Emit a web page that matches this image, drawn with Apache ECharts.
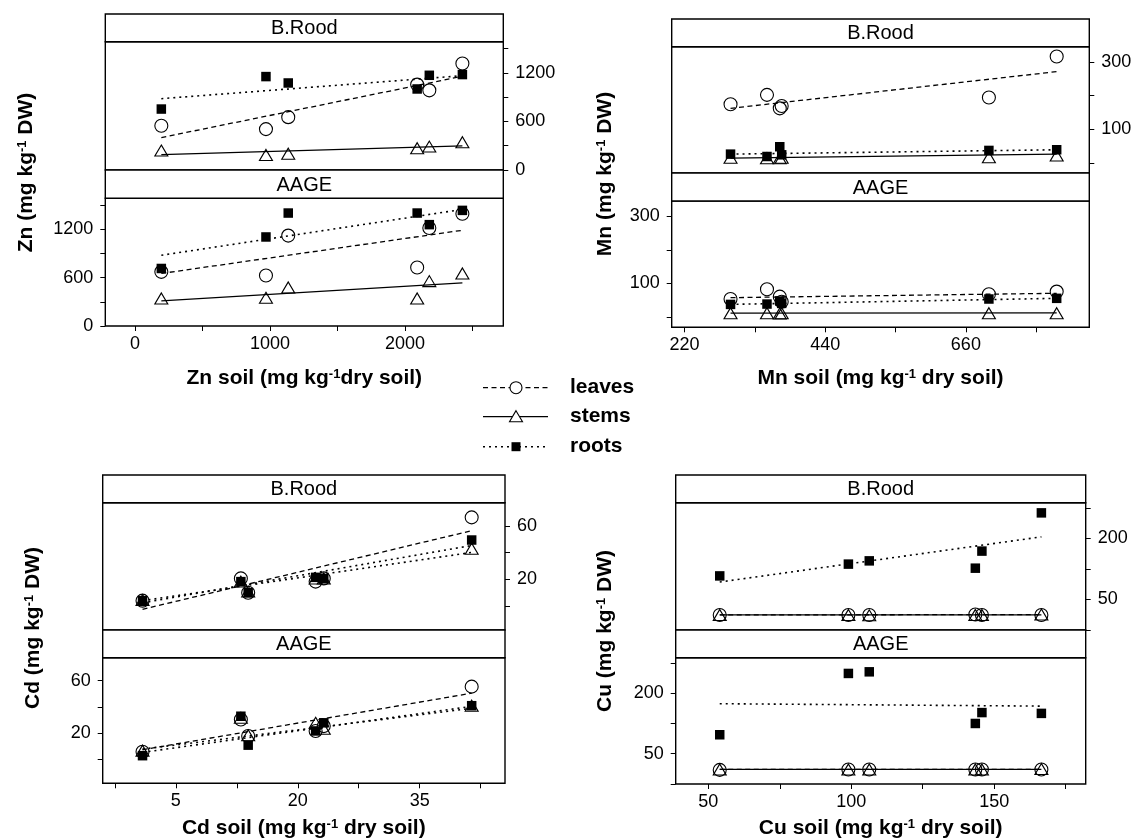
<!DOCTYPE html>
<html><head><meta charset="utf-8">
<script src="https://cdn.jsdelivr.net/npm/echarts@6/dist/echarts.min.js"></script>
<style>html,body{margin:0;padding:0;background:#fff}#c{width:1138px;height:839px}</style>
</head><body><div id="c"></div>
<script>
// ---------------- DATA ----------------
const seriesNames = ['leaves', 'stems', 'roots'];
const stripLabels = ['B.Rood', 'AAGE'];

// Zn
const znSoil = [195, 970, 1135, 2090, 2180, 2425];
const znRoodLeaves = [546, 505, 653, 1055, 984, 1315];
const znRoodStems = [240, 186, 202, 269, 289, 343];
const znRoodRoots = [753, 1154, 1075, 1001, 1170, 1179];
const znRoodFitLeaves = [401, 1158];
const znRoodFitStems = [190, 298];
const znRoodFitRoots = [881, 1165];
const znAageLeaves = [672, 627, 1122, 726, 1216, 1394];
const znAageStems = [342, 350, 479, 342, 557, 652];
const znAageRoots = [714, 1105, 1402, 1402, 1258, 1435];
const znAageFitLeaves = [652, 1188];
const znAageFitStems = [313, 536];
const znAageFitRoots = [878, 1447];
const znXTicks = [0, 500, 1000, 1500, 2000, 2500];
const znXLabels = [0, 1000, 2000];
const znYTicks = [0, 300, 600, 900, 1200, 1500];
const znYLabels = [0, 600, 1200];

// Mn
const mnSoil = [292, 349, 369, 372, 696, 802];
const mnRoodLeaves = [174, 202, 162, 169, 194, 316];
const mnRoodStems = [15, 14, 14, 15, 17, 22];
const mnRoodRoots = [26, 19, 48, 24, 37, 39];
const mnRoodFitLeaves = [162, 271];
const mnRoodFitStems = [14, 26];
const mnRoodFitRoots = [26, 39];
const mnAageLeaves = [54, 83, 61, 46, 68, 76];
const mnAageStems = [12, 12, 11, 12, 12, 12];
const mnAageRoots = [38, 39, 48, 41, 54, 56];
const mnAageFitLeaves = [58, 71];
const mnAageFitStems = [12, 13];
const mnAageFitRoots = [38, 56];
const mnXTicks = [220, 330, 440, 550, 660, 770];
const mnXLabels = [220, 440, 660];
const mnYTicks = [0, 100, 200, 300];
const mnYLabels = [100, 300];

// Cd
const cdSoil = [0.9, 13.0, 13.9, 22.2, 23.2, 41.4];
const cdRoodLeaves = [4, 20.7, 10, 18.3, 20.7, 66.5];
const cdRoodStems = [4.5, 18.3, 10.8, 20.7, 20.7, 43];
const cdRoodRoots = [4, 18.3, 10, 21.5, 20.7, 49.5];
const cdRoodFitLeaves = [-2.5, 56.5];
const cdRoodFitStems = [4.0, 40.2];
const cdRoodFitRoots = [2.4, 45.4];
const cdAageLeaves = [6, 30.5, 18, 21.8, 25.5, 55.5];
const cdAageStems = [6.8, 31.8, 18.5, 28, 23.5, 41];
const cdAageRoots = [3, 33, 11, 21.8, 28, 41];
const cdAageFitLeaves = [7.5, 50.5];
const cdAageFitStems = [8, 39];
const cdAageFitRoots = [5.5, 40.5];
const cdXTicks = [-2.5, 5, 12.5, 20, 27.5, 35, 42.5];
const cdXLabels = [5, 20, 35];
const cdYTicks = [0, 20, 40, 60];
const cdYLabels = [20, 60];

// Cu
const cuSoil = [54, 99, 106.3, 143.4, 145.7, 166.5];
const cuRoodLeaves = [12, 12, 12, 13, 12, 12];
const cuRoodStems = [12, 12, 11, 12, 12, 13];
const cuRoodRoots = [108, 137, 145, 127, 169, 263];
const cuRoodFitLeaves = [12, 13];
const cuRoodFitStems = [12, 12];
const cuRoodFitRoots = [93, 204];
const cuAageLeaves = [10, 11, 11, 11, 11, 11];
const cuAageStems = [11, 11, 11, 11, 11, 12];
const cuAageRoots = [97, 249, 253, 125, 152, 150];
const cuAageFitLeaves = [11, 11];
const cuAageFitStems = [11, 11];
const cuAageFitRoots = [174, 168];
const cuXTicks = [50, 75, 100, 125, 150, 175];
const cuXLabels = [50, 100, 150];
const cuYTicks = [-25, 50, 125, 200, 275];
const cuYLabels = [50, 200];

// ---------------- LAYOUT / STYLE ----------------
const FONT = 'Liberation Sans';
const panels = [
  { el: 'Zn', soil: znSoil, xMin: -220, xMax: 2728, yMin: 0, yMax: 1585,
    xTicks: znXTicks, xLabels: znXLabels, yTicks: znYTicks, yLabels: znYLabels,
    rood: [znRoodLeaves, znRoodStems, znRoodRoots], roodFit: [znRoodFitLeaves, znRoodFitStems, znRoodFitRoots],
    aage: [znAageLeaves, znAageStems, znAageRoots], aageFit: [znAageFitLeaves, znAageFitStems, znAageFitRoots],
    left: 105.3, width: 398, hdr1: 14, g1: 41.7, g1b: 170, g2: 198.3, g2b: 326,
    yt: [26, 172.5], xt: [304.3, 378], xTitleSpace: '' , stemDotted: false },
  { el: 'Mn', soil: mnSoil, xMin: 200, xMax: 853, yMin: -30, yMax: 345,
    xTicks: mnXTicks, xLabels: mnXLabels, yTicks: mnYTicks, yLabels: mnYLabels,
    rood: [mnRoodLeaves, mnRoodStems, mnRoodRoots], roodFit: [mnRoodFitLeaves, mnRoodFitStems, mnRoodFitRoots],
    aage: [mnAageLeaves, mnAageStems, mnAageRoots], aageFit: [mnAageFitLeaves, mnAageFitStems, mnAageFitRoots],
    left: 671.7, width: 417.6, hdr1: 19, g1: 46.7, g1b: 173, g2: 201, g2b: 327.3,
    yt: [605, 174], xt: [880.5, 378], xTitleSpace: ' ', stemDotted: false },
  { el: 'Cd', soil: cdSoil, xMin: -4, xMax: 45.5, yMin: -18, yMax: 77.5,
    xTicks: cdXTicks, xLabels: cdXLabels, yTicks: cdYTicks, yLabels: cdYLabels,
    rood: [cdRoodLeaves, cdRoodStems, cdRoodRoots], roodFit: [cdRoodFitLeaves, cdRoodFitStems, cdRoodFitRoots],
    aage: [cdAageLeaves, cdAageStems, cdAageRoots], aageFit: [cdAageFitLeaves, cdAageFitStems, cdAageFitRoots],
    left: 102.7, width: 402.3, hdr1: 475, g1: 502.7, g1b: 630, g2: 657.7, g2b: 783.3,
    yt: [33, 628], xt: [303.8, 828], xTitleSpace: ' ', stemDotted: true },
  { el: 'Cu', soil: cuSoil, xMin: 38.6, xMax: 182, yMin: -25, yMax: 288,
    xTicks: cuXTicks, xLabels: cuXLabels, yTicks: cuYTicks, yLabels: cuYLabels,
    rood: [cuRoodLeaves, cuRoodStems, cuRoodRoots], roodFit: [cuRoodFitLeaves, cuRoodFitStems, cuRoodFitRoots],
    aage: [cuAageLeaves, cuAageStems, cuAageRoots], aageFit: [cuAageFitLeaves, cuAageFitStems, cuAageFitRoots],
    left: 675.7, width: 410, hdr1: 475, g1: 502.7, g1b: 630, g2: 657.7, g2b: 784,
    yt: [605, 631], xt: [880.7, 828], xTitleSpace: ' ', stemDotted: false }
];

const DASH = [5, 3.5];
const DOT = [2, 4];
const markerDefs = [
  { symbol: 'circle', size: 13, itemStyle: { color: 'rgba(0,0,0,0)', borderColor: '#000', borderWidth: 1.1, opacity: 1 } },
  { symbol: 'triangle', size: [13, 11], itemStyle: { color: 'rgba(0,0,0,0)', borderColor: '#000', borderWidth: 1.1, opacity: 1 } },
  { symbol: 'rect', size: 9.5, itemStyle: { color: '#000', borderWidth: 0, opacity: 1 } }
];

const grids = [], xAxes = [], yAxes = [], series = [], graphics = [];
const tickStyle = { show: true, length: 5, inside: false, lineStyle: { color: '#000', width: 1 } };
const labelStyle = { color: '#000', fontFamily: FONT, fontSize: 18, formatter: (v) => String(v) };

panels.forEach((p) => {
  [0, 1].forEach((sub) => {
    const gi = grids.length;
    const top = sub === 0 ? p.g1 : p.g2;
    const bottom = sub === 0 ? p.g1b : p.g2b;
    grids.push({ left: p.left, top: top, width: p.width, height: bottom - top,
      show: true, borderColor: '#000', borderWidth: 1.4, backgroundColor: 'rgba(0,0,0,0)' });
    xAxes.push({ type: 'value', gridIndex: gi, min: p.xMin, max: p.xMax, position: 'bottom',
      axisLine: { show: false, onZero: false }, splitLine: { show: false },
      axisTick: sub === 1 ? Object.assign({ customValues: p.xTicks }, tickStyle) : { show: false },
      axisLabel: sub === 1 ? Object.assign({ show: true, margin: 9, customValues: p.xLabels }, labelStyle) : { show: false } });
    yAxes.push({ type: 'value', gridIndex: gi, min: p.yMin, max: p.yMax, position: sub === 0 ? 'right' : 'left',
      axisLine: { show: false, onZero: false }, splitLine: { show: false },
      axisTick: Object.assign({ customValues: p.yTicks }, tickStyle),
      axisLabel: Object.assign({ show: true, margin: 12, customValues: p.yLabels }, labelStyle) });

    const vals = sub === 0 ? p.rood : p.aage;
    const fits = sub === 0 ? p.roodFit : p.aageFit;
    fits.forEach((f, k) => {
      let type = k === 0 ? DASH : (k === 1 ? 'solid' : DOT);
      if (k === 1 && p.stemDotted) type = DOT;
      series.push({ type: 'line', name: seriesNames[k] + ' fit', xAxisIndex: gi, yAxisIndex: gi,
        data: [[p.soil[0], f[0]], [p.soil[p.soil.length - 1], f[1]]],
        symbol: 'none', silent: true, z: 2,
        lineStyle: { color: '#000', width: type === DOT ? 1.6 : 1.3, type: type, opacity: 1 } });
    });
    vals.forEach((v, k) => {
      const m = markerDefs[k];
      series.push({ type: 'scatter', name: seriesNames[k], xAxisIndex: gi, yAxisIndex: gi,
        data: p.soil.map((x, i) => [x, v[i]]),
        symbol: m.symbol, symbolSize: m.size, itemStyle: m.itemStyle, silent: true, z: 3 + k });
    });
  });

  [[p.hdr1, p.g1, stripLabels[0]], [p.g1b, p.g2, stripLabels[1]]].forEach(([t, b, lab]) => {
    graphics.push({ type: 'rect', shape: { x: p.left, y: t, width: p.width, height: b - t },
      style: { fill: '#fff', stroke: '#000', lineWidth: 1.4 }, z: 10 });
    graphics.push({ type: 'text', x: p.left + p.width / 2, y: (t + b) / 2 + 1, z: 11,
      style: { text: lab, fontFamily: FONT, fontSize: 20, fill: '#000', align: 'center', verticalAlign: 'middle' } });
  });

  const rich = {
    b: { fontFamily: FONT, fontSize: 21, fontWeight: 'bold', fill: '#000', color: '#000' },
    s: { fontFamily: FONT, fontSize: 13, fontWeight: 'bold', fill: '#000', color: '#000', verticalAlign: 'top' }
  };
  graphics.push({ type: 'text', x: p.yt[0], y: p.yt[1], rotation: Math.PI / 2, z: 11,
    style: { text: '{b|' + p.el + ' (mg kg}{s|-1}{b| DW)}', rich: rich, align: 'center', verticalAlign: 'middle', fill: '#000' } });
  graphics.push({ type: 'text', x: p.xt[0], y: p.xt[1], z: 11,
    style: { text: '{b|' + p.el + ' soil (mg kg}{s|-1}{b|' + p.xTitleSpace + 'dry soil)}', rich: rich, align: 'center', verticalAlign: 'middle', fill: '#000' } });
});

const legendRows = [
  { y: 387.7, dash: DASH, sym: 'circle', w: 1.3 },
  { y: 416.7, dash: null, sym: 'triangle', w: 1.3 },
  { y: 446.7, dash: DOT, sym: 'rect', w: 1.6 }
];
legendRows.forEach((r, k) => {
  graphics.push({ type: 'line', shape: { x1: 483, y1: r.y, x2: 548, y2: r.y }, z: 11,
    style: { stroke: '#000', lineWidth: r.w, lineDash: r.dash || null } });
  if (r.sym === 'circle') {
    graphics.push({ type: 'circle', shape: { cx: 516, cy: r.y, r: 6 }, z: 12, style: { fill: '#fff', stroke: '#000', lineWidth: 1.1 } });
  } else if (r.sym === 'triangle') {
    graphics.push({ type: 'polygon', shape: { points: [[516, r.y - 6], [522.5, r.y + 5], [509.5, r.y + 5]] }, z: 12, style: { fill: '#fff', stroke: '#000', lineWidth: 1.1 } });
  } else {
    graphics.push({ type: 'rect', shape: { x: 511.5, y: r.y - 4.5, width: 9, height: 9 }, z: 12, style: { fill: '#000' } });
  }
  graphics.push({ type: 'text', x: 570, y: r.y, z: 12,
    style: { text: seriesNames[k], fontFamily: FONT, fontSize: 21, fontWeight: 'bold', fill: '#000', align: 'left', verticalAlign: 'middle' } });
});

const chart = echarts.init(document.getElementById('c'), null, { renderer: 'canvas' });
chart.setOption({
  animation: false,
  backgroundColor: '#fff',
  grid: grids, xAxis: xAxes, yAxis: yAxes, series: series, graphic: graphics
});
</script></body></html>
